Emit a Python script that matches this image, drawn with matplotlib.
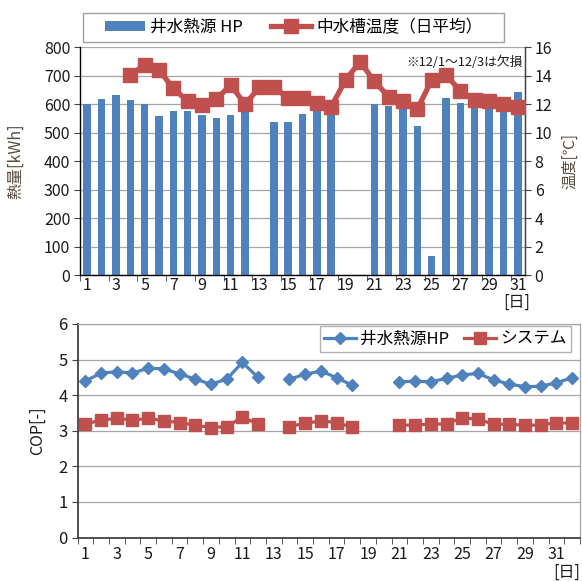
import numpy as np
import matplotlib
matplotlib.use("Agg")
import matplotlib.pyplot as plt
from matplotlib.ticker import FixedLocator, NullFormatter
from matplotlib.patches import Patch, Rectangle
from matplotlib.lines import Line2D

plt.rcParams['font.family'] = ['Noto Sans CJK JP', 'DejaVu Sans']

nan = np.nan

# ---- upper chart: daily heat (kWh) and daily mean tank temperature (°C)
days = list(range(1, 32))
heat_kwh = [600, 619, 632, 614, 600, 560, 576, 576, 562, 552, 561, 574, nan,
            538, 538, 565, 590, 585, nan, nan, 601, 594, 590, 523, 67, 621,
            606, 600, 600, 625, 644]
tank_temp = [nan, nan, nan, 14.06, 14.76, 14.41, 13.12, 12.23, 11.95, 12.37,
             13.35, 12.0, 13.19, 13.19, 12.44, 12.44, 12.09, 11.83, 13.7,
             14.99, 13.63, 12.53, 12.25, 11.67, 13.7, 14.06, 12.93, 12.3,
             12.25, 12.0, 11.83]

# ---- lower chart: daily COP
cop_days = list(range(1, 33))
cop_hp = [4.40, 4.62, 4.66, 4.62, 4.76, 4.74, 4.60, 4.45, 4.31, 4.45, 4.92,
          4.50, nan, 4.45, 4.59, 4.68, 4.49, 4.28, nan, nan, 4.38, 4.39, 4.38,
          4.47, 4.57, 4.61, 4.43, 4.31, 4.24, 4.25, 4.35, 4.49]
cop_sys = [3.19, 3.30, 3.35, 3.30, 3.35, 3.28, 3.23, 3.16, 3.09, 3.12, 3.38,
           3.19, nan, 3.12, 3.21, 3.28, 3.23, 3.10, nan, nan, 3.16, 3.16, 3.19,
           3.19, 3.37, 3.32, 3.19, 3.18, 3.16, 3.16, 3.23, 3.21]

BLUE = '#4F81BD'
RED = '#C0504D'
GRID = '#a6a6a6'
AXIS = '#404040'
TXT = '#1a1a1a'
LBL = '#594a40'

W, H = 582, 581
fig = plt.figure(figsize=(W / 100, H / 100), dpi=100)


def frac(l, t, r, b):
    return [l / W, 1 - b / H, (r - l) / W, (b - t) / H]


# ================= upper chart =================
ax1 = fig.add_axes(frac(80, 47.3, 525, 275.3))
ax1.bar(days, heat_kwh, width=0.52, color=BLUE, zorder=2)
ax1.set_xlim(0.5, 31.5)
ax1.set_ylim(0, 800)
ax1.set_yticks(range(0, 801, 100))
ax1.set_axisbelow(True)
ax1.yaxis.grid(True, color=GRID, lw=0.9)
ax1.xaxis.set_major_locator(FixedLocator(list(range(1, 32, 2))))
ax1.xaxis.set_minor_locator(FixedLocator([d + 0.5 for d in range(0, 31, 2)]))
ax1.xaxis.set_minor_formatter(NullFormatter())
ax1.tick_params(axis='x', which='major', length=0, pad=1, labelsize=11.5, colors=TXT)
ax1.tick_params(axis='x', which='minor', length=4, color=AXIS)
ax1.tick_params(axis='y', length=4, color=AXIS, labelsize=11.5, labelcolor=TXT, pad=3)
for s in ['left', 'bottom']:
    ax1.spines[s].set_color(AXIS)
    ax1.spines[s].set_linewidth(1.0)
ax1.spines['top'].set_visible(False)
ax1.spines['right'].set_color(AXIS)
ax1.set_ylabel('熱量[kWh]', fontsize=11.5, color=LBL)
ax1.yaxis.set_label_coords(-0.126, 0.5)

ax2 = ax1.twinx()
ax2.plot(days, tank_temp, color=RED, lw=3.8, marker='s', ms=10.5,
         solid_joinstyle='miter', zorder=3)
ax2.set_ylim(0, 16)
ax2.set_yticks(range(0, 17, 2))
ax2.tick_params(axis='y', length=4, color=AXIS, labelsize=11.5, labelcolor=TXT, pad=3)
ax2.spines['top'].set_visible(False)
ax2.spines['right'].set_color(AXIS)
ax2.spines['right'].set_linewidth(1.0)
ax2.set_ylabel('温度[℃]', fontsize=11, color=LBL, rotation=90)
ax2.yaxis.set_label_coords(1.081, 0.5)

ax1.text(0.995, 0.965, '※12/1～12/3は欠損', transform=ax1.transAxes,
         ha='right', va='top', fontsize=9.2, color=TXT)
fig.text(517 / W, 1 - 302 / H, '[日]', ha='center', va='center', fontsize=11.5, color=TXT)

# legend box of the upper chart
fig.patches.append(Rectangle((83 / W, 1 - 42 / H), (504 - 83) / W, 29 / H,
                             transform=fig.transFigure, facecolor='white',
                             edgecolor='#a0a0a0', lw=1.0))
handles1 = [Patch(facecolor=BLUE, edgecolor='none'),
            Line2D([], [], color=RED, lw=3.8, marker='s', ms=10.5)]
fig.legend(handles1, ['井水熱源 HP', '中水槽温度（日平均）'], ncol=2,
           loc='center', bbox_to_anchor=(293.5 / W, 1 - 27.5 / H),
           fontsize=12, frameon=False,
           handlelength=2.4, handleheight=0.6, columnspacing=1.7,
           handletextpad=0.3, borderpad=0.3, borderaxespad=0)

# ================= lower chart =================
ax3 = fig.add_axes(frac(77.5, 324, 580, 537.6))
ax3.plot(cop_days, cop_hp, color=BLUE, lw=2.3, marker='D', ms=6.5, zorder=3)
ax3.plot(cop_days, cop_sys, color=RED, lw=2.3, marker='s', ms=8, zorder=3)
ax3.set_xlim(0.5, 32.5)
ax3.set_ylim(0, 6)
ax3.set_yticks(range(0, 7))
ax3.set_axisbelow(True)
ax3.yaxis.grid(True, color=GRID, lw=0.9)
ax3.xaxis.set_major_locator(FixedLocator(list(range(1, 33, 2))))
ax3.xaxis.set_minor_locator(FixedLocator([d + 0.5 for d in range(0, 33)]))
ax3.xaxis.set_minor_formatter(NullFormatter())
ax3.tick_params(axis='x', which='major', length=0, pad=6, labelsize=11.5, colors=TXT)
ax3.tick_params(axis='x', which='minor', length=4, color=AXIS)
ax3.tick_params(axis='y', length=4, color=AXIS, labelsize=12, labelcolor=TXT, pad=3)
for s in ['left', 'bottom']:
    ax3.spines[s].set_color(AXIS)
    ax3.spines[s].set_linewidth(1.3)
for s in ['top', 'right']:
    ax3.spines[s].set_color(GRID)
    ax3.spines[s].set_linewidth(0.9)
ax3.set_ylabel('COP[-]', fontsize=11.5, color=TXT)
ax3.yaxis.set_label_coords(-0.063, 0.5)
fig.text(567 / W, 1 - 572 / H, '[日]', ha='center', va='center', fontsize=11.5, color=TXT)

handles2 = [Line2D([], [], color=BLUE, lw=2.3, marker='D', ms=6.5),
            Line2D([], [], color=RED, lw=2.3, marker='s', ms=8)]
leg2 = fig.legend(handles2, ['井水熱源HP', 'システム'], ncol=2,
                  loc='center', bbox_to_anchor=(445.5 / W, 1 - 339 / H),
                  fontsize=12, frameon=True, fancybox=False, edgecolor='#a0a0a0',
                  handlelength=1.9, columnspacing=0.9, handletextpad=0.25,
                  borderpad=0.25, borderaxespad=0)
leg2.get_frame().set_linewidth(1.0)

fig.savefig('out.png', dpi=100, facecolor='white')
